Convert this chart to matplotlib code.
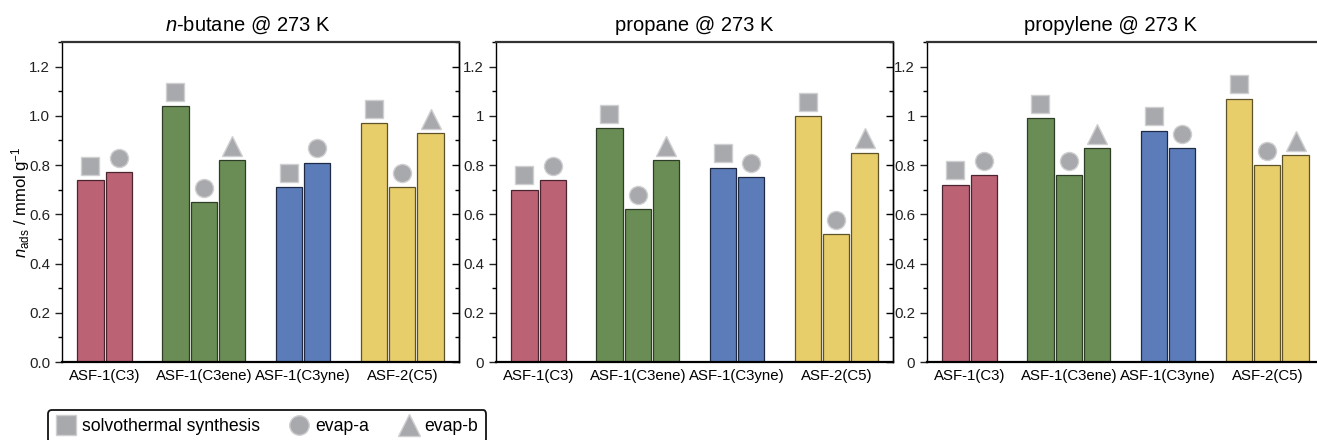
import matplotlib
matplotlib.use("Agg")
import matplotlib.pyplot as plt
from matplotlib.lines import Line2D
from matplotlib.ticker import MultipleLocator, FuncFormatter

plt.rcParams['font.family'] = ['Liberation Sans', 'DejaVu Sans']
plt.rcParams['mathtext.fontset'] = 'custom'
plt.rcParams['mathtext.rm'] = 'Liberation Sans'
plt.rcParams['mathtext.it'] = 'Liberation Sans:italic'
plt.rcParams['font.size'] = 10

# data
groups = ['ASF-1(C3)', 'ASF-1(C3ene)', 'ASF-1(C3yne)', 'ASF-2(C5)']
methods = [['s', 'a'], ['s', 'a', 'b'], ['s', 'a'], ['s', 'a', 'b']]
titles = ['$n$-butane @ 273 K', 'propane @ 273 K', 'propylene @ 273 K']
butane = [0.74, 0.77, 1.04, 0.65, 0.82, 0.71, 0.81, 0.97, 0.71, 0.93]
propane = [0.70, 0.74, 0.95, 0.62, 0.82, 0.79, 0.75, 1.00, 0.52, 0.85]
propylene = [0.72, 0.76, 0.99, 0.76, 0.87, 0.94, 0.87, 1.07, 0.80, 0.84]
panels = [butane, propane, propylene]

legend_labels = {'s': 'solvothermal synthesis', 'a': 'evap-a', 'b': 'evap-b'}
marker_of = {'s': 's', 'a': 'o', 'b': '^'}
face = ['#bc6275', '#6a8c55', '#5b7cb9', '#e8cd6b']
edge = ['#4a2530', '#2e3d25', '#1f2b45', '#5e5228']
mk_face = '#a8a9ac'
mk_edge = '#cfcfd1'

fig = plt.figure(figsize=(13.17, 4.4), dpi=100)
lefts = [62, 496, 927]

for p, vals in enumerate(panels):
    ax = fig.add_axes([lefts[p] / 1317, 1 - 362 / 440, 397 / 1317, 320 / 440])
    pos = 1
    k = 0
    centers = []
    for g, meths in enumerate(methods):
        xs = []
        for m in meths:
            v = vals[k]
            ax.bar(pos, v, width=0.93, color=face[g], edgecolor=edge[g], linewidth=0.9, zorder=2)
            ms = 13 if m != 'b' else 15
            ax.plot(pos, v + 0.058, marker=marker_of[m], ms=ms, mfc=mk_face, mec=mk_edge,
                    mew=1.0, ls='none', zorder=3, clip_on=False)
            xs.append(pos)
            pos += 1
            k += 1
        centers.append(sum(xs) / len(xs))
        pos += 1

    ax.set_xlim(0, 14)
    ax.set_ylim(0, 1.3)
    ax.set_xticks(centers)
    ax.set_xticklabels(groups, fontsize=10.8)
    ax.tick_params(axis='x', length=0, pad=5)
    ax.yaxis.set_major_locator(MultipleLocator(0.2))
    ax.yaxis.set_minor_locator(MultipleLocator(0.1))
    if p == 0:
        ax.yaxis.set_major_formatter(FuncFormatter(lambda y, _: '%.1f' % y))
    else:
        ax.yaxis.set_major_formatter(FuncFormatter(lambda y, _: '%g' % round(y, 1)))
    ax.tick_params(axis='y', which='major', direction='out', length=5, width=1, labelsize=10.8,
                   colors='#222222')
    ax.tick_params(axis='y', which='minor', direction='out', length=3, width=1)
    sec = ax.secondary_yaxis('right')
    sec.yaxis.set_major_locator(MultipleLocator(0.2))
    sec.yaxis.set_minor_locator(MultipleLocator(0.1))
    sec.tick_params(which='major', direction='in', length=5, width=1, labelright=False)
    sec.tick_params(which='minor', direction='in', length=3, width=1)
    sec.spines['right'].set_linewidth(1.0)

    for side in ['left', 'right']:
        ax.spines[side].set_linewidth(1.0)
    for side in ['top', 'bottom']:
        ax.spines[side].set_linewidth(1.6)
    ax.spines['top'].set_color('#333333')

    tx = [0.467, 0.5, 0.461][p]
    ax.set_title(titles[p], fontsize=14.5, x=tx, pad=8)
    if p == 0:
        ax.set_ylabel('$n_\\mathrm{ads}$ / mmol g$^{-1}$', fontsize=12, labelpad=-2)

handles = [Line2D([], [], marker=marker_of[m], ls='none', ms=14 if m != 'b' else 16,
                  mfc=mk_face, mec=mk_edge, mew=1.0) for m in ['s', 'a', 'b']]
leg = fig.legend(handles, [legend_labels[m] for m in ['s', 'a', 'b']], ncol=3,
                 loc='upper left', bbox_to_anchor=(48 / 1317, 1 - 410 / 440),
                 fontsize=12.7, frameon=True, fancybox=True, edgecolor='#111111',
                 handlelength=1.1, handletextpad=0.35, columnspacing=1.7,
                 borderpad=0.45, borderaxespad=0)
leg.get_frame().set_linewidth(1.3)
leg.get_frame().set_alpha(1)

fig.savefig('out.png', dpi=100)
